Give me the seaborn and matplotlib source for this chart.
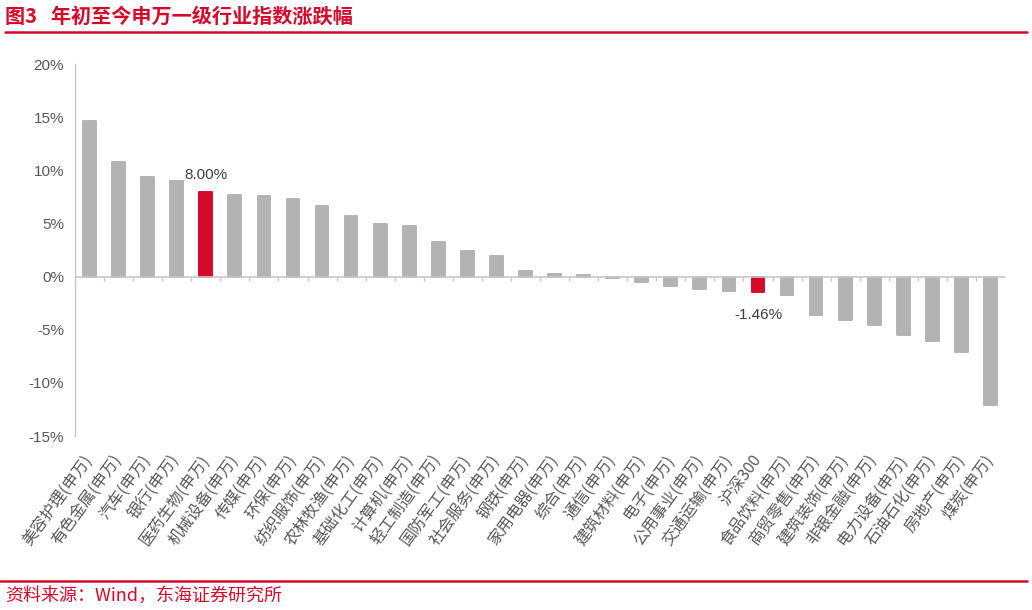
import numpy as np
import matplotlib
matplotlib.use("Agg")
import matplotlib.pyplot as plt
import seaborn as sns

sns.set_style("white")
plt.rcParams['font.family'] = ['Noto Sans CJK SC', 'DejaVu Sans']

industries = ["美容护理(申万)", "有色金属(申万)", "汽车(申万)", "银行(申万)", "医药生物(申万)",
              "机械设备(申万)", "传媒(申万)", "环保(申万)", "纺织服饰(申万)", "农林牧渔(申万)",
              "基础化工(申万)", "计算机(申万)", "轻工制造(申万)", "国防军工(申万)", "社会服务(申万)",
              "钢铁(申万)", "家用电器(申万)", "综合(申万)", "通信(申万)", "建筑材料(申万)",
              "电子(申万)", "公用事业(申万)", "交通运输(申万)", "沪深300", "食品饮料(申万)",
              "商贸零售(申万)", "建筑装饰(申万)", "非银金融(申万)", "电力设备(申万)", "石油石化(申万)",
              "房地产(申万)", "煤炭(申万)"]
changes = [14.6, 10.8, 9.4, 9.0, 8.00,
           7.65, 7.55, 7.3, 6.6, 5.7,
           4.9, 4.8, 3.25, 2.4, 1.95,
           0.5, 0.2, 0.18, -0.12, -0.5,
           -0.85, -1.15, -1.4, -1.46, -1.7,
           -3.6, -4.1, -4.55, -5.5, -6.05,
           -7.1, -12.1]
highlight = ["医药生物(申万)", "沪深300"]

RED = "#D7092A"
GREY = "#B3B3B3"
TXT = "#595959"
AX = "#C8C8C8"
NARROW = ['Liberation Sans Narrow', 'Liberation Sans', 'DejaVu Sans']

fig = plt.figure(figsize=(10.32, 6.10), dpi=100)
ax = fig.add_axes([75 / 1032, 1 - 436 / 610, 930 / 1032, 372 / 610])

colors = [RED if n in highlight else GREY for n in industries]
sns.barplot(x=industries, y=changes, hue=industries, palette=colors,
            legend=False, width=0.44, ax=ax, saturation=1, linewidth=1.4)
for patch, c in zip(ax.patches, colors):
    patch.set_edgecolor(c)
    patch.set_joinstyle('round')

ax.set_ylim(-15, 20)
ax.set_xlim(-0.5, len(industries) - 0.5)
ax.set_yticks(np.arange(-15, 21, 5))
ax.set_yticklabels([f"{v}%" for v in range(-15, 21, 5)], color=TXT, fontsize=11,
                   family=NARROW)
ax.tick_params(axis='y', direction='out', length=4, color=AX, width=1, pad=4)
ax.tick_params(axis='x', length=0, pad=15)
ax.set_xticks(range(len(industries)))
ax.set_xticklabels(industries, rotation=54, ha='right', va='center',
                   rotation_mode='anchor', color=TXT, fontsize=11.5)
for s in ['top', 'right', 'bottom']:
    ax.spines[s].set_visible(False)
ax.spines['left'].set_color(AX)
ax.spines['left'].set_linewidth(1)

# zero line with boundary ticks
ax.axhline(0, color=AX, lw=1.2, zorder=3)
ax.vlines(np.arange(-0.5, len(industries)), 0, -0.38, color=AX, lw=1, zorder=3)

for n in highlight:
    i = industries.index(n)
    v = changes[i]
    off = 0.9 if v > 0 else -1.5
    ax.text(i, v + off, f"{v:.2f}%", ha='center', va='bottom' if v > 0 else 'top',
            color="#404040", fontsize=11, family=NARROW)

fig.text(5 / 1032, 1 - 16 / 610, "图3   年初至今申万一级行业指数涨跌幅", color=RED,
         fontsize=14.5, fontweight='bold', va='center', ha='left')
fig.add_artist(plt.Line2D([5 / 1032, 1027 / 1032], [1 - 32 / 610, 1 - 32 / 610],
                          color=RED, lw=1.8))
fig.add_artist(plt.Line2D([0, 1027 / 1032], [1 - 581 / 610, 1 - 581 / 610],
                          color=RED, lw=1.8))
fig.text(5 / 1032, 1 - 596 / 610, "资料来源：Wind，东海证券研究所", color=RED,
         fontsize=13, va='center', ha='left')

fig.savefig("out.png", dpi=100)
